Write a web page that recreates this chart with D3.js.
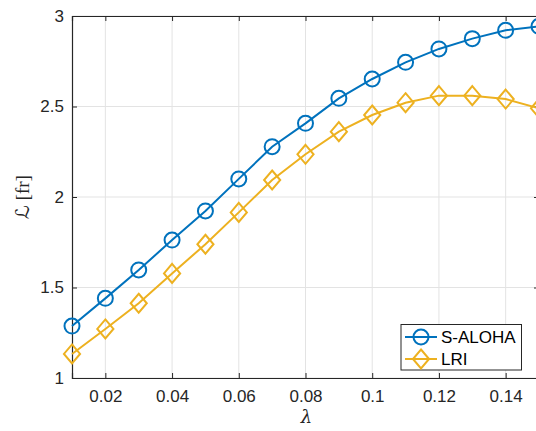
<!DOCTYPE html>
<html><head><meta charset="utf-8">
<script src="https://cdn.jsdelivr.net/npm/d3@7"></script>
<style>body{margin:0;background:#fff}svg{display:block}</style>
</head><body><svg id="c" width="536" height="431"></svg>
<script>
const lambdas = [0.01,0.02,0.03,0.04,0.05,0.06,0.07,0.08,0.09,0.10,0.11,0.12,0.13,0.14,0.15];
const sAloha = [1.287,1.440,1.597,1.762,1.923,2.100,2.278,2.407,2.545,2.652,2.744,2.818,2.875,2.921,2.943];
const lri    = [1.133,1.271,1.413,1.578,1.739,1.915,2.094,2.236,2.361,2.453,2.521,2.560,2.560,2.541,2.490];
const xTicks = [0.02,0.04,0.06,0.08,0.1,0.12,0.14];
const yTicks = [1,1.5,2,2.5,3];
const seriesNames = ["S-ALOHA","LRI"];

const svg = d3.select("#c");
const L=72, R=539, T=16, B=378;
const x = d3.scaleLinear().domain([0.01,0.15]).range([L,R]);
const y = d3.scaleLinear().domain([1,3]).range([B,T]);
const axC = "#262626", font = "Liberation Sans, Arial, sans-serif";

// grid
svg.append("g").selectAll("line").data(xTicks).join("line")
  .attr("x1",d=>x(d)).attr("x2",d=>x(d)).attr("y1",T).attr("y2",B)
  .attr("stroke","#e3e3e3").attr("stroke-width",1);
svg.append("g").selectAll("line").data(yTicks).join("line")
  .attr("x1",L).attr("x2",R).attr("y1",d=>y(d)).attr("y2",d=>y(d))
  .attr("stroke","#e3e3e3").attr("stroke-width",1);

// axes
const xa = svg.append("g").attr("transform",`translate(0,${B})`)
  .call(d3.axisBottom(x).tickValues(xTicks).tickSize(-5).tickPadding(12).tickFormat(d=>String(+d.toFixed(2))));
const xt = svg.append("g").attr("transform",`translate(0,${T})`)
  .call(d3.axisTop(x).tickValues(xTicks).tickSize(-5).tickFormat(""));
const ya = svg.append("g").attr("transform",`translate(${L},0)`)
  .call(d3.axisLeft(y).tickValues(yTicks).tickSize(-5).tickPadding(8).tickFormat(d=>String(d)));
const yr = svg.append("g").attr("transform",`translate(${R},0)`)
  .call(d3.axisRight(y).tickValues(yTicks).tickSize(-5).tickFormat(""));
[xa,xt,ya,yr].forEach(g=>{
  g.select(".domain").attr("stroke",axC).attr("stroke-width",1.2);
  g.selectAll(".tick line").attr("stroke",axC).attr("stroke-width",1);
  g.selectAll("text").attr("fill",axC).style("font-family",font).style("font-size","17px");
});

// series
const cols = ["#0072BD","#EDB120"];
const data = [sAloha, lri];
const line = d3.line().x((d,i)=>x(lambdas[i])).y(d=>y(d));
const diamond = (cx,cy,s)=>`M${cx},${cy-s}L${cx+s*0.85},${cy}L${cx},${cy+s}L${cx-s*0.85},${cy}Z`;
data.forEach((vals,k)=>{
  const g = svg.append("g");
  g.append("path").attr("d",line(vals)).attr("fill","none").attr("stroke",cols[k]).attr("stroke-width",2);
  if(k===0){
    g.selectAll("circle").data(vals).join("circle")
      .attr("cx",(d,i)=>x(lambdas[i])).attr("cy",d=>y(d)).attr("r",7.5)
      .attr("fill","none").attr("stroke",cols[k]).attr("stroke-width",2);
  } else {
    g.selectAll("path.m").data(vals).join("path").attr("class","m")
      .attr("d",(d,i)=>diamond(x(lambdas[i]),y(d),9.5))
      .attr("fill","none").attr("stroke",cols[k]).attr("stroke-width",2);
  }
});

// labels
svg.append("text").attr("x",306.5).attr("y",423).attr("text-anchor","middle")
  .style("font-family","DejaVu Serif, serif").style("font-style","italic").style("font-size","18px")
  .attr("fill",axC).text("λ");
const yl = svg.append("text").attr("transform","translate(29,197) rotate(-90)").attr("text-anchor","middle")
  .style("font-family","Liberation Serif, DejaVu Serif, serif").style("font-size","19px").attr("fill",axC);
yl.append("tspan").style("font-family","DejaVu Sans, serif").text("ℒ");
yl.append("tspan").text(" [fr]");

// legend
const lg = svg.append("g");
lg.append("rect").attr("x",401).attr("y",324.5).attr("width",120.5).attr("height",45.5)
  .attr("fill","#fff").attr("stroke",axC).attr("stroke-width",1);
seriesNames.forEach((nm,k)=>{
  const cy = 337 + k*22;
  lg.append("line").attr("x1",405).attr("x2",437).attr("y1",cy).attr("y2",cy)
    .attr("stroke",cols[k]).attr("stroke-width",2);
  if(k===0) lg.append("circle").attr("cx",421).attr("cy",cy).attr("r",7.5).attr("fill","none").attr("stroke",cols[k]).attr("stroke-width",2);
  else lg.append("path").attr("d",diamond(421,cy,9.5)).attr("fill","none").attr("stroke",cols[k]).attr("stroke-width",2);
  lg.append("text").attr("x",441).attr("y",cy+6).style("font-family",font).style("font-size","17px")
    .attr("fill","#000").text(nm);
});
</script></body></html>
